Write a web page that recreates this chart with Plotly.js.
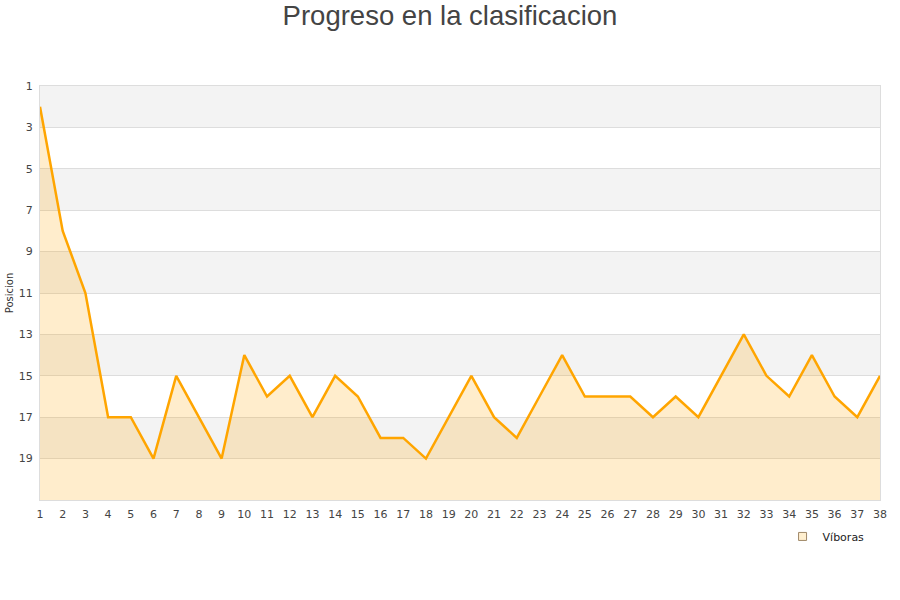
<!DOCTYPE html>
<html><head><meta charset="utf-8">
<script src="https://cdn.plot.ly/plotly-3.0.1.min.js"></script>
<style>html,body{margin:0;padding:0;background:#fff}#c{width:900px;height:600px}</style>
</head><body><div id="c"></div>
<script>
const jornadas = [1,2,3,4,5,6,7,8,9,10,11,12,13,14,15,16,17,18,19,20,21,22,23,24,25,26,27,28,29,30,31,32,33,34,35,36,37,38];
const posiciones = [2,8,11,17,17,19,15,17,19,14,16,15,17,15,16,18,18,19,17,15,17,18,16,14,16,16,16,17,16,17,15,13,15,16,14,16,17,15];
const yTicks = [1,3,5,7,9,11,13,15,17,19];
const yMax = 21;
const serie = 'Víboras';

const shapes = [];
for (let i = 0; i < yTicks.length; i += 2) {
  shapes.push({type:'rect', xref:'paper', yref:'y', x0:0, x1:1, y0:yTicks[i], y1:yTicks[i]+2,
    fillcolor:'#f3f3f3', line:{width:0}, layer:'below'});
}

const base = {x: jornadas, y: jornadas.map(() => yMax), mode:'lines', line:{width:0, color:'rgba(0,0,0,0)'},
  showlegend:false, hoverinfo:'skip'};
const main = {x: jornadas, y: posiciones, name: serie, mode:'lines', fill:'tonexty',
  fillcolor:'rgba(255,165,0,0.2)', line:{color:'#FFA500', width:2.5}, showlegend:false};
const legendItem = {x:[null], y:[null], name: serie, mode:'markers',
  marker:{symbol:'square', size:8, color:'#FFEFCF', line:{color:'#A08868', width:1}}, showlegend:true};

Plotly.newPlot('c', [base, main, legendItem], {
  width:900, height:600,
  margin:{l:40, r:20, t:86, b:100},
  paper_bgcolor:'#fff', plot_bgcolor:'#fff',
  title:{text:'Progreso en la clasificacion', x:0.5, xanchor:'center', yref:'container', y:0.975, yanchor:'middle',
    font:{family:'Liberation Sans, Arial, sans-serif', size:27.5, color:'#444'}},
  xaxis:{range:[1,38], tickvals:jornadas, ticktext:jornadas.map(String), showgrid:false, zeroline:false,
    showline:true, linecolor:'#ddd', mirror:true, ticks:'', ticklen:0, ticklabelstandoff:4,
    tickfont:{family:'DejaVu Sans, sans-serif', size:11, color:'#444'}},
  yaxis:{range:[yMax,1], tickvals:yTicks, ticktext:yTicks.map(String), showgrid:true, gridcolor:'#ddd',
    zeroline:false, showline:true, linecolor:'#ddd', mirror:true, ticks:'', ticklabelstandoff:4,
    tickfont:{family:'DejaVu Sans, sans-serif', size:11, color:'#444'},
    title:{text:'Posicion', standoff:3, font:{family:'DejaVu Sans, sans-serif', size:10, color:'#333'}}},
  shapes: shapes,
  showlegend:true,
  legend:{x:0.884, xanchor:'left', y:-0.053, yanchor:'top', bgcolor:'rgba(0,0,0,0)',
    font:{family:'DejaVu Sans, sans-serif', size:11, color:'#222'}}
}, {displayModeBar:false, staticPlot:true});
</script></body></html>
